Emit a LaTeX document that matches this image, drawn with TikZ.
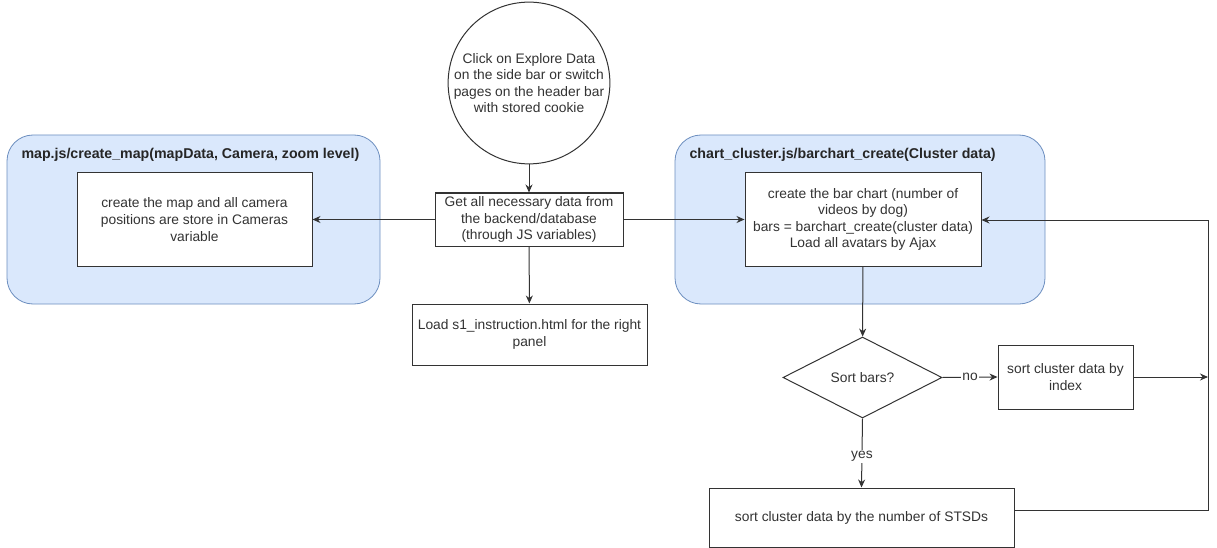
\documentclass[tikz,border=0pt]{standalone}
\usepackage{fontspec}
\setmainfont{Liberation Sans}
\usetikzlibrary{shapes.geometric,arrows.meta}
\definecolor{contfill}{HTML}{DAE8FC}
\definecolor{contdraw}{HTML}{6C8EBF}
\definecolor{ink}{HTML}{333333}
\begin{document}
\begin{tikzpicture}[x=1pt,y=-1pt,
  every node/.style={font=\fontsize{13.8}{16.6}\selectfont, text=ink},
  container/.style={draw=contdraw, fill=contfill, rounded corners=26pt, line width=0.8pt},
  box/.style={draw=ink, fill=white, rectangle, inner sep=1pt, align=center, line width=1pt},
  conn/.style={draw=ink, line width=1pt, -{Stealth[length=8pt,width=7pt]}},
  lbl/.style={fill=white, inner sep=1pt},
  ttl/.style={anchor=west, font=\fontsize{14.2}{16}\selectfont\bfseries, text=black!85}
]
\useasboundingbox (0,0) rectangle (1217,548);
% containers
\path[container] (7,135) rectangle (380,304);
\path[container] (675,135) rectangle (1045,304);
\node[ttl] (lt) at (18,155) {map.js/create\_map(mapData, Camera, zoom level)};
\node[ttl] (rt) at (686,155) {chart\_cluster.js/barchart\_create(Cluster data)};
% nodes
\node[box, circle, minimum size=156pt, inner sep=0pt] (start) at (529,83) {Click on Explore Data\\on the side bar or switch\\pages on the header bar\\with stored cookie};
\node[box, minimum width=188pt, minimum height=53pt] (get) at (529,219.5) {Get all necessary data from\\the backend/database\\(through JS variables)};
\node[box, minimum width=235pt, minimum height=61pt] (load) at (529.5,334.5) {Load s1\_instruction.html for the right\\panel};
\node[box, minimum width=235pt, minimum height=93pt] (map) at (194.5,219.5) {create the map and all camera\\positions are store in Cameras\\variable};
\node[box, minimum width=236pt, minimum height=93pt] (bar) at (863,219.5) {create the bar chart (number of\\videos by dog)\\bars = barchart\_create(cluster data)\\Load all avatars by Ajax};
\node[box, diamond, minimum width=159pt, minimum height=81pt, inner sep=0pt] (sort) at (862.5,377.5) {Sort bars?};
\node[box, minimum width=135pt, minimum height=64pt] (idx) at (1065.5,377) {sort cluster data by\\index};
\node[box, minimum width=305pt, minimum height=59pt] (stsd) at (861.5,517.5) {sort cluster data by the number of STSDs};
\coordinate (fbA) at (1208,510);
\coordinate (fbB) at (1208,220);
\coordinate (fbJ) at (1208,377);
% connectors
\draw[conn] (start) -- (get);
\draw[conn] (get) -- (load);
\draw[conn] (get.west) -- (map.east);
\draw[conn] (get.east) -- (bar.west);
\draw[conn] (bar) -- (sort);
\draw[conn] (sort.east) -- node[lbl] {no} (idx.west);
\draw[conn] (sort.south) -- node[lbl, pos=0.55] {yes} (stsd.north);
\draw[conn] (idx.east) -- (fbJ);
\draw[conn] (stsd.east |- fbA) -- (fbA) -- (fbB) -- (bar.east |- fbB);
\end{tikzpicture}
\end{document}
